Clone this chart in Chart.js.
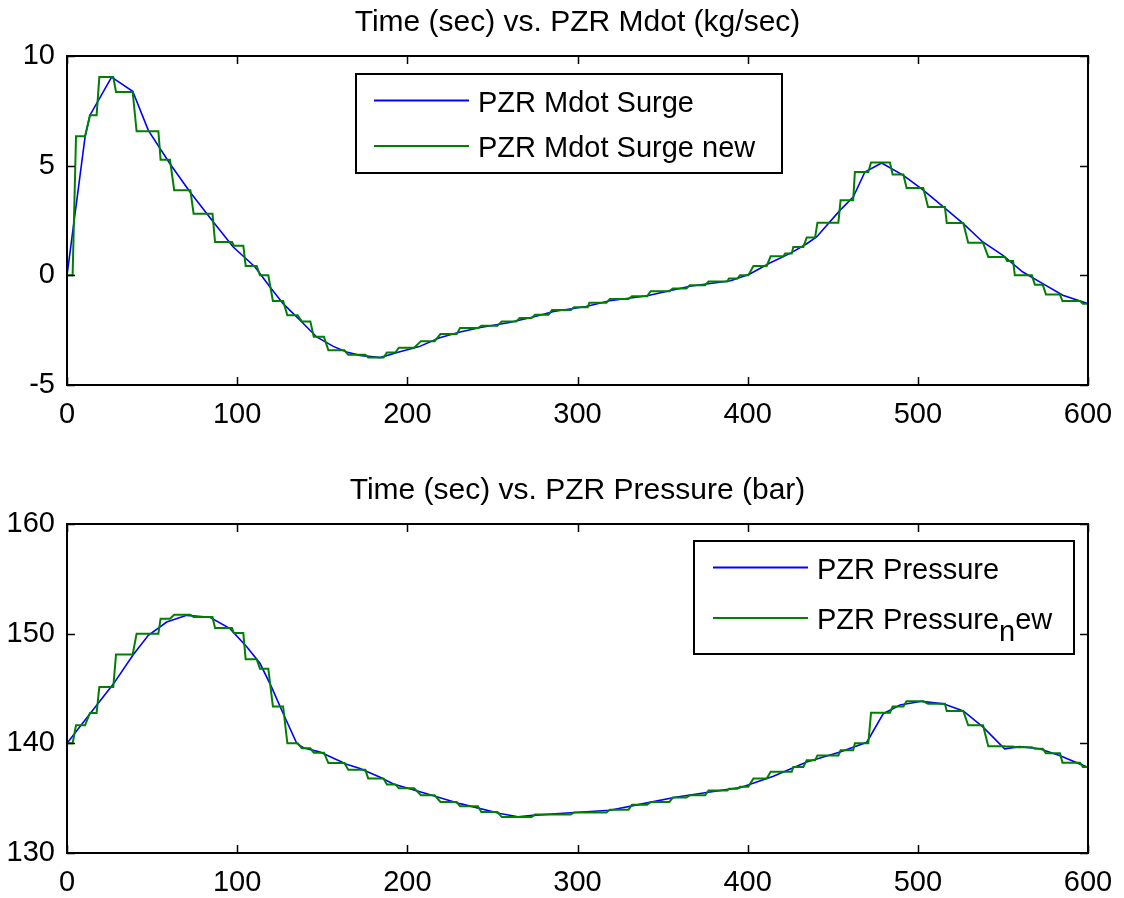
<!DOCTYPE html>
<html>
<head>
<meta charset="utf-8">
<title>PZR Mdot / PZR Pressure</title>
<script src="https://cdn.jsdelivr.net/npm/chart.js@4.4.1/dist/chart.umd.min.js"></script>
<style>
  html, body { margin: 0; padding: 0; background: #fff; }
  #wrap { position: relative; width: 1124px; height: 898px; }
  canvas { position: absolute; left: 0; }
  #mdotChart { top: 0; }
  #pressureChart { top: 449px; }
</style>
</head>
<body>
<div id="wrap">
  <canvas id="mdotChart" width="1124" height="449"></canvas>
  <canvas id="pressureChart" width="1124" height="449"></canvas>
</div>
<script>
// Data (time in sec)

// continuous series (blue)
const timeSurge = [0, 10.6, 13.5, 26.2, 38.6, 47.8, 60.5, 72.3, 86, 97.7, 110.5, 119.3, 127, 138, 146.7,
  156.5, 164.3, 172, 184, 194, 207, 219, 231, 243, 260, 274, 286, 305, 319, 341, 366, 390, 401, 413, 424.7,
  434.7, 440.5, 454.2, 462, 468.9, 478.7, 491.5, 503.2, 515, 526.7, 538.2, 550, 561.7, 573.4, 585.2, 600];
const surge = [0, 6.3, 7.3, 9.04, 8.39, 6.61, 5.09, 3.80, 2.43, 1.29, 0.38, -0.53, -1.29, -2.13, -2.81,
  -3.24, -3.50, -3.65, -3.75, -3.52, -3.25, -2.85, -2.58, -2.38, -2.15, -1.9, -1.65, -1.42, -1.16, -0.93, -0.5, -0.25, 0.05, 0.56, 0.99,
  1.44, 1.75, 2.96, 3.57, 4.71, 5.12, 4.56, 3.88, 3.12, 2.36, 1.52, 0.91, 0.15, -0.38, -0.91, -1.29];

const timePressure = [0, 13.5, 27.2, 39, 47.8, 58.6, 70.3, 84, 95.8, 105.6, 113.4, 120.3, 127.1, 135, 138.9,
  148.7, 164.3, 172.2, 184, 191.8, 211.4, 231, 254.5, 265, 274, 293.7, 319.1, 338.7, 358.3, 377.9,
  395.5, 415.1, 434.7, 454.3, 470, 479.7, 489.5, 502.2, 515, 526.7, 538.2, 551, 559.8, 571.5, 583.3, 600];
const pressure = [140, 142.7, 145.4, 148.1, 149.85, 151.06, 151.67, 151.5, 150.46, 148.8, 147.3, 145.1, 142.7, 140.0, 139.6,
  139.2, 138.1, 137.7, 136.9, 136.3, 135.4, 134.5, 133.6, 133.3, 133.43, 133.65, 133.9, 134.5, 135.1, 135.56,
  135.96, 137, 138.3, 139.2, 140.1, 142.7, 143.5, 143.83, 143.6, 142.95, 141.5, 139.5, 139.7, 139.5, 138.9, 137.8];

// sampled / held series (green): each hold runs from holdStart[i] to holdEnd[i]
const holdStart = [0, 5.3, 13.5, 19, 28.8, 40.9, 55, 63, 74.4, 87, 98, 105, 113.4, 121, 129.5, 138, 145, 153.6, 165.3, 177,
  188, 195, 208, 219.5, 231, 243.5, 255.5, 266, 275, 285, 298, 307, 319, 332, 343, 356, 366, 377, 389, 395.5,
  403.4, 413.5, 422, 426.8, 434.7, 441, 454.6, 463, 472.5, 485.2, 493.4, 506, 517, 529.6, 541.4, 552.5, 557, 568.8, 575.3, 585, 597];
const holdEnd = [3.3, 10.6, 17.4, 27.2, 38.6, 53.7, 60.5, 72.5, 85.5, 97, 103.6, 111.5, 118.3, 127, 135.5, 143, 151, 163, 175.3, 186,
  193, 204, 216, 229, 241.5, 253, 264, 273, 283, 296, 306, 317, 330, 341, 354, 364, 375, 388, 394, 400.4,
  411.2, 421, 425.9, 432.7, 439.6, 453.3, 462, 470.9, 483.6, 491.5, 503.2, 515.9, 526.7, 538.3, 551.2, 556, 567, 573.4, 583.5, 595.3, 600];
const surgeHold = [0, 6.34, 7.3, 9.04, 8.36, 6.57, 5.27, 3.88, 2.81, 1.52, 1.35, 0.43, 0, -1.17, -1.82, -2.1, -2.8, -3.42, -3.62, -3.75,
  -3.52, -3.3, -3.0, -2.68, -2.4, -2.3, -2.1, -1.95, -1.8, -1.58, -1.45, -1.25, -1.08, -0.95, -0.72, -0.6, -0.45, -0.28, -0.15, 0,
  0.43, 0.87, 0.99, 1.29, 1.72, 2.4, 3.42, 4.71, 5.14, 4.6, 3.98, 3.12, 2.39, 1.49, 0.84, 0.65, 0, -0.43, -0.87, -1.17, -1.29];
const pressureHold = [140, 141.64, 142.77, 145.14, 148.1, 150.0, 151.37, 151.73, 151.52, 150.52, 150.05, 147.66, 146.8, 143.37, 140.0, 139.55, 139.15, 138.2, 137.6, 136.8,
  136.25, 135.9, 135.26, 134.65, 134.26, 133.74, 133.28, 133.28, 133.5, 133.5, 133.7, 133.7, 133.95, 134.4, 134.65, 135.05, 135.26, 135.7, 135.85, 136.05,
  136.8, 137.4, 137.4, 137.84, 138.45, 138.9, 139.36, 140.0, 142.8, 143.37, 143.83, 143.6, 142.95, 141.64, 139.73, 139.7, 139.65, 139.5, 139.1, 138.24, 137.84];

/* ======================================================
   HELPERS
====================================================== */

const FONT_FAMILY = '"Liberation Sans", Arial, sans-serif';
const FONT_SIZE = 29;
const TITLE_SIZE = 30;
const BLUE = '#0000ff';
const GREEN = '#008000';

function toPoints(xs, ys) {
  return xs.map((x, i) => ({ x, y: ys[i] }));
}

function stepPoints(values) {
  const pts = [];
  values.forEach((v, i) => {
    pts.push({ x: holdStart[i], y: v }, { x: holdEnd[i], y: v });
  });
  return pts;
}

// draws "abc_xdef" with x as a subscript, like MATLAB's tex interpreter
function drawTexLabel(ctx, label, x, y) {
  let cx = x;
  const parts = label.split(/(_.)/);
  parts.forEach(p => {
    if (!p) return;
    const sub = p.startsWith('_');
    const txt = sub ? p.slice(1) : p;
    ctx.fillText(txt, cx, sub ? y + 12 : y);
    cx += ctx.measureText(txt).width;
  });
}

// MATLAB style box, inward ticks, title and legend
const matlabAxes = {
  id: 'matlabAxes',
  afterDraw(chart, args, opts) {
    const { ctx, chartArea: a, scales: { x, y } } = chart;
    ctx.save();

    ctx.strokeStyle = '#000';
    ctx.lineWidth = 1.5;
    ctx.beginPath();
    x.ticks.forEach(t => {
      const px = Math.round(x.getPixelForValue(t.value)) + 0.5;
      ctx.moveTo(px, a.bottom); ctx.lineTo(px, a.bottom - 8);
      ctx.moveTo(px, a.top); ctx.lineTo(px, a.top + 8);
    });
    y.ticks.forEach(t => {
      const py = Math.round(y.getPixelForValue(t.value)) + 0.5;
      ctx.moveTo(a.left, py); ctx.lineTo(a.left + 8, py);
      ctx.moveTo(a.right, py); ctx.lineTo(a.right - 8, py);
    });
    ctx.stroke();

    ctx.lineWidth = 2;
    ctx.strokeRect(a.left, a.top, a.right - a.left, a.bottom - a.top);

    // title
    ctx.fillStyle = '#000';
    ctx.font = TITLE_SIZE + 'px ' + FONT_FAMILY;
    ctx.textAlign = 'center';
    ctx.textBaseline = 'middle';
    ctx.fillText(opts.title, (a.left + a.right) / 2, a.top - 33);

    // legend
    const L = opts.legend;
    ctx.font = FONT_SIZE + 'px ' + FONT_FAMILY;
    ctx.fillStyle = '#fff';
    ctx.fillRect(L.left, L.top, L.right - L.left, L.bottom - L.top);
    ctx.strokeStyle = '#000';
    ctx.lineWidth = 2;
    ctx.strokeRect(L.left, L.top, L.right - L.left, L.bottom - L.top);
    ctx.textAlign = 'left';
    chart.data.datasets.slice().sort((p, q) => p.legendIndex - q.legendIndex).forEach((ds, i) => {
      const ly = L.rowY[i];
      ctx.strokeStyle = ds.borderColor;
      ctx.lineWidth = 2;
      ctx.beginPath();
      ctx.moveTo(L.lineX1, ly);
      ctx.lineTo(L.lineX2, ly);
      ctx.stroke();
      ctx.fillStyle = '#000';
      drawTexLabel(ctx, ds.label, L.textX, ly + 3);
    });

    ctx.restore();
  }
};

function makeChart(id, cfg) {
  const ctx = document.getElementById(id);
  return new Chart(ctx, {
    type: 'line',
    data: {
      datasets: [
        {
          label: cfg.labels[1], legendIndex: 1, data: cfg.held,
          borderColor: GREEN, borderWidth: 2, pointRadius: 0, tension: 0, order: 0
        },
        {
          label: cfg.labels[0], legendIndex: 0, data: cfg.line,
          borderColor: BLUE, borderWidth: 1.6, pointRadius: 0, tension: 0, order: 1
        }
      ]
    },
    options: {
      responsive: false,
      animation: false,
      layout: { padding: { top: cfg.top, right: 36, left: 0, bottom: 0 } },
      plugins: {
        legend: { display: false },
        tooltip: { enabled: false },
        title: { display: false },
        matlabAxes: { title: cfg.title, legend: cfg.legend }
      },
      scales: {
        x: {
          type: 'linear', min: 0, max: 600,
          grid: { display: false },
          border: { display: false },
          ticks: { stepSize: 100, padding: 5, color: '#000', font: { family: FONT_FAMILY, size: FONT_SIZE } },
          afterFit: s => { s.height = cfg.xHeight; }
        },
        y: {
          min: cfg.yMin, max: cfg.yMax,
          grid: { display: false },
          border: { display: false },
          ticks: { stepSize: cfg.yStep, padding: 4, color: '#000', font: { family: FONT_FAMILY, size: FONT_SIZE } },
          afterFit: s => { s.width = 67; }
        }
      }
    },
    plugins: [matlabAxes]
  });
}

/* ======================================================
   CHARTS
====================================================== */

makeChart('mdotChart', {
  title: 'Time (sec) vs. PZR Mdot (kg/sec)',
  labels: ['PZR Mdot Surge', 'PZR Mdot Surge new'],
  line: toPoints(timeSurge, surge),
  held: stepPoints(surgeHold),
  yMin: -5, yMax: 10, yStep: 5,
  top: 56, xHeight: 64,
  legend: { left: 356, right: 782, top: 74, bottom: 173, rowY: [100.5, 146], lineX1: 374, lineX2: 469, textX: 478 }
});

makeChart('pressureChart', {
  title: 'Time (sec) vs. PZR Pressure (bar)',
  labels: ['PZR Pressure', 'PZR Pressure_new'],
  line: toPoints(timePressure, pressure),
  held: stepPoints(pressureHold),
  yMin: 130, yMax: 160, yStep: 10,
  top: 75, xHeight: 45,
  legend: { left: 694, right: 1074, top: 92, bottom: 205, rowY: [118.5, 169], lineX1: 713, lineX2: 808, textX: 817 }
});
</script>
</body>
</html>
